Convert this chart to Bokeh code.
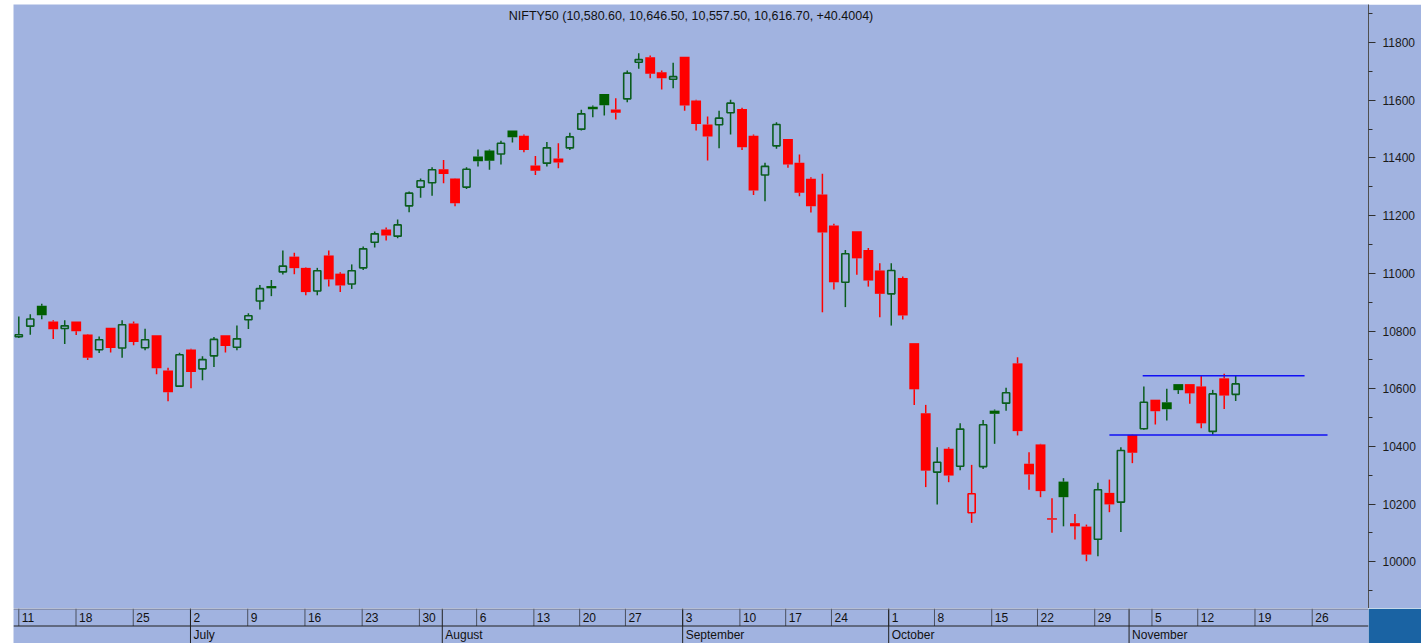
import datetime as dt
from bokeh.plotting import figure
from bokeh.models import ColumnDataSource, Range1d, FixedTicker, Label, Span, BasicTickFormatter
from bokeh.layouts import column
from bokeh.core.properties import value
from bokeh.embed import file_html
from bokeh.resources import INLINE

# ---------------- data (NIFTY50 daily, 2018) ----------------
symbol = "NIFTY50"
year = 2018
june_days = [11, 12, 13, 14, 15, 18, 19, 20, 21, 22, 25, 26, 27, 28, 29]
july_days = [2, 3, 4, 5, 6, 9, 10, 11, 12, 13, 16, 17, 18, 19, 20, 23, 24, 25, 26, 27, 30, 31]
aug_days = [1, 2, 3, 6, 7, 8, 9, 10, 13, 14, 16, 17, 20, 21, 23, 24, 27, 28, 29, 30, 31]
sep_days = [3, 4, 5, 6, 7, 10, 11, 12, 14, 17, 18, 19, 21, 24, 25, 26, 27, 28]
oct_days = [1, 3, 4, 5, 8, 9, 10, 11, 12, 15, 16, 17, 19, 22, 23, 24, 25, 26, 29, 30, 31]
nov_days = [1, 2, 5, 6, 7, 9, 12, 13, 14, 15]
nov_future_days = [16, 19, 20, 21, 22, 23, 26, 27, 28, 29, 30]

opens = [10780, 10817, 10888, 10833, 10809, 10833, 10788, 10735, 10811, 10741,
         10826, 10742, 10785, 10663, 10609, 10736, 10669, 10714, 10785, 10744,
         10839, 10904, 10956, 11005, 11058, 11019, 10939, 11062, 10999, 10963,
         11019, 11108, 11152, 11129, 11234, 11299, 11314, 11361, 11329, 11299,
         11405, 11426, 11414, 11495, 11477, 11374, 11382, 11398, 11435, 11500,
         11578, 11622, 11568, 11605, 11732, 11749, 11697, 11673, 11751, 11599,
         11516, 11515, 11557, 11570, 11477, 11341, 11442, 11466, 11383, 11328,
         11273, 11166, 10969, 11146, 11081, 11010, 10929, 10984, 10758, 10515,
         10311, 10392, 10331, 10170, 10330, 10524, 10550, 10688, 10340, 10407,
         10151, 10278, 10134, 10122, 10078, 10239, 10207, 10440, 10461, 10562,
         10553, 10616, 10616, 10608, 10452, 10636, 10580.6]
highs = [10850, 10858, 10895, 10837, 10837, 10833, 10790, 10781, 10811, 10837,
         10833, 10808, 10785, 10673, 10725, 10739, 10713, 10779, 10785, 10819,
         10862, 10960, 10977, 11079, 11071, 11021, 11019, 11079, 11004, 11031,
         11093, 11145, 11159, 11187, 11284, 11329, 11368, 11393, 11330, 11368,
         11429, 11429, 11460, 11495, 11481, 11407, 11455, 11451, 11487, 11567,
         11582, 11622, 11607, 11703, 11763, 11755, 11703, 11730, 11751, 11602,
         11544, 11564, 11602, 11574, 11481, 11383, 11524, 11466, 11412, 11333,
         11345, 11172, 11081, 11146, 11088, 11035, 11035, 10989, 10758, 10544,
         10397, 10397, 10480, 10336, 10492, 10528, 10603, 10709, 10380, 10409,
         10220, 10290, 10166, 10129, 10274, 10285, 10397, 10441, 10608, 10562,
         10600, 10616, 10616, 10646, 10596, 10652, 10646.5]
lows = [10776, 10787, 10841, 10772, 10755, 10786, 10700, 10724, 10726, 10707,
        10751, 10733, 10650, 10557, 10606, 10602, 10629, 10675, 10726, 10733,
        10807, 10875, 10921, 10996, 10997, 10924, 10924, 10954, 10935, 10946,
        11012, 11090, 11114, 11122, 11212, 11262, 11269, 11312, 11233, 11292,
        11370, 11359, 11377, 11454, 11420, 11341, 11370, 11364, 11428, 11495,
        11541, 11547, 11533, 11593, 11709, 11676, 11637, 11642, 11564, 11495,
        11391, 11434, 11481, 11428, 11272, 11250, 11432, 11366, 11267, 11211,
        10865, 10944, 10883, 10995, 10954, 10848, 10819, 10840, 10544, 10259,
        10199, 10276, 10317, 10135, 10322, 10409, 10524, 10438, 10250, 10224,
        10101, 10123, 10077, 10002, 10019, 10172, 10103, 10342, 10458, 10476,
        10490, 10582, 10548, 10463, 10441, 10530, 10557.5]
closes = [10787, 10842, 10855, 10806, 10818, 10799, 10707, 10770, 10741, 10822,
          10762, 10770, 10671, 10588, 10718, 10658, 10701, 10771, 10748, 10773,
          10853, 10947, 10948, 11025, 11018, 10935, 11009, 10979, 10958, 11009,
          11085, 11137, 11131, 11168, 11278, 11321, 11359, 11344, 11243, 11361,
          11389, 11390, 11451, 11472, 11428, 11356, 11435, 11384, 11473, 11553,
          11569, 11583, 11557, 11694, 11741, 11692, 11676, 11682, 11582, 11518,
          11474, 11538, 11590, 11437, 11287, 11371, 11516, 11377, 11279, 11233,
          11142, 10969, 11068, 11052, 10975, 10929, 11010, 10854, 10598, 10316,
          10345, 10299, 10460, 10236, 10475, 10513, 10586, 10453, 10303, 10245,
          10146, 10224, 10123, 10025, 10250, 10199, 10386, 10378, 10553, 10522,
          10529, 10595, 10584, 10480, 10582, 10576.3, 10616.7]
prev_close_before_first = 10768
last_change = 40.4004

# horizontal range lines (trading-day index, price)
level_prices = [10645, 10440]
level_start = [97.9, 95.0]
level_end = [112.0, 114.0]

y_ticks = [10000, 10200, 10400, 10600, 10800, 11000, 11200, 11400, 11600, 11800]
y_minor_ticks = [9900, 10100, 10300, 10500, 10700, 10900, 11100, 11300, 11500, 11700, 11900]

# ---------------- derived ----------------
def mk(month, days):
    return [dt.date(year, month, d) for d in days]

trading_dates = (mk(6, june_days) + mk(7, july_days) + mk(8, aug_days) +
                 mk(9, sep_days) + mk(10, oct_days) + mk(11, nov_days))
axis_dates = trading_dates + mk(11, nov_future_days)

week_idx, week_lbl, month_idx, month_lbl = [], [], [], []
seen_weeks, seen_months = set(), set()
for i, d in enumerate(axis_dates):
    wk = d.isocalendar()[:2]
    if wk not in seen_weeks:
        seen_weeks.add(wk)
        week_idx.append(i)
        week_lbl.append(str(d.day))
    if d.month not in seen_months:
        seen_months.add(d.month)
        if i > 0:
            month_idx.append(i)
            month_lbl.append(d.strftime("%B"))

n = len(closes)
xs = list(range(n))
prevs = [prev_close_before_first] + closes[:-1]
tops = [max(o, c) for o, c in zip(opens, closes)]
bots = [min(o, c) for o, c in zip(opens, closes)]
hollow = [c > o for o, c in zip(opens, closes)]
up = [c >= pc for c, pc in zip(closes, prevs)]

BG = "#A1B3E0"
UP_LINE = "#0B5D1E"
UP_FILL = "#005E00"
DOWN = "#FF0000"
FONT = "Liberation Sans"

edge = [UP_LINE if u else DOWN for u in up]
fillc = [UP_FILL if u else DOWN for u in up]

all_src = ColumnDataSource(dict(x=xs, high=highs, low=lows, top=tops, bot=bots, color=edge))
fsel = [i for i in xs if not hollow[i]]
hsel = [i for i in xs if hollow[i]]
filled_src = ColumnDataSource(dict(x=[xs[i] for i in fsel], top=[tops[i] for i in fsel],
                                   bot=[bots[i] for i in fsel], fill=[fillc[i] for i in fsel]))
hollow_src = ColumnDataSource(dict(x=[xs[i] for i in hsel], top=[tops[i] for i in hsel],
                                   bot=[bots[i] for i in hsel], color=[edge[i] for i in hsel]))

# ---------------- geometry ----------------
W = 1408
FRAME_W = 1355
SLOT = 11.48
TOP = 4
x_lo = -5.3 / SLOT
x_hi = x_lo + FRAME_W / SLOT
px_per_unit = 57.69 / 200.0
y_lo = 10000 - (608 - 561.3) / px_per_unit
y_hi = 10000 + (561.3 - TOP) / px_per_unit

p = figure(width=W, height=608 - TOP, x_range=Range1d(x_lo, x_hi), y_range=Range1d(y_lo, y_hi),
           output_backend="svg", toolbar_location=None, x_axis_location=None,
           y_axis_location="right", min_border_left=0, min_border_top=0,
           min_border_bottom=0, min_border_right=W - FRAME_W,
           background_fill_color=BG, border_fill_color=BG, outline_line_color=None)
p.xgrid.visible = False
p.ygrid.visible = False

yax = p.yaxis[0]
yax.ticker = FixedTicker(ticks=y_ticks, minor_ticks=y_minor_ticks)
yax.formatter = BasicTickFormatter(use_scientific=False)
yax.major_tick_out = 7
yax.major_tick_in = 0
yax.minor_tick_out = 4
yax.minor_tick_in = 0
yax.major_label_standoff = 7
yax.major_label_text_font = FONT
yax.major_label_text_font_size = "12px"
yax.major_label_text_color = "#1a1a1a"
yax.axis_line_color = "#505050"
yax.major_tick_line_color = "#303030"
yax.minor_tick_line_color = "#303030"

p.segment(x0="x", y0="high", x1="x", y1="top", source=all_src, line_color="color", line_width=1.5)
p.segment(x0="x", y0="bot", x1="x", y1="low", source=all_src, line_color="color", line_width=1.5)
p.vbar(x="x", top="top", bottom="bot", width=0.86, source=filled_src,
       fill_color="fill", line_color=None)
p.vbar(x="x", top="top", bottom="bot", width=0.62, source=hollow_src,
       fill_color=None, line_color="color", line_width=1.6)

p.segment(x0=level_start, y0=level_prices, x1=level_end, y1=level_prices,
          line_color="#1010F5", line_width=1.5)

title_text = "%s (%s, %s, %s, %s, %+.4f)" % (
    symbol, f"{opens[-1]:,.2f}", f"{highs[-1]:,.2f}", f"{lows[-1]:,.2f}", f"{closes[-1]:,.2f}", last_change)
p.add_layout(Label(x=(x_lo + x_hi) / 2, y=y_hi - 11 / px_per_unit, text=title_text,
                   text_align="center", text_baseline="middle", text_font=FONT,
                   text_font_size="12.5px", text_color="#111111"))

# ---------------- date strip ----------------
STRIP_FRAME_W = 1359
s = figure(width=W, height=35, x_range=Range1d(x_lo, x_lo + STRIP_FRAME_W / SLOT),
           y_range=Range1d(0, 35), output_backend="svg", toolbar_location=None,
           x_axis_location=None, y_axis_location=None, min_border_left=0,
           min_border_top=0, min_border_bottom=0, min_border_right=W - STRIP_FRAME_W,
           background_fill_color=BG, border_fill_color="#1A63A3", outline_line_color=None)
s.xgrid.visible = False
s.ygrid.visible = False
s.add_layout(Span(location=34.5, dimension="width", line_color="#6a6f80", line_width=1))
s.add_layout(Span(location=17.5, dimension="width", line_color="#202020", line_width=1))
s.segment(x0=week_idx, y0=[17.5] * len(week_idx), x1=week_idx, y1=[35] * len(week_idx),
          line_color="#4a5060", line_width=1)
s.segment(x0=month_idx, y0=[0] * len(month_idx), x1=month_idx, y1=[35] * len(month_idx),
          line_color="#202020", line_width=1)
s.text(x=week_idx, y=[26.5] * len(week_idx), text=week_lbl, x_offset=3,
       text_align="left", text_baseline="middle", text_font=value(FONT),
       text_font_size="12px", text_color="#111111")
s.text(x=month_idx, y=[8.5] * len(month_idx), text=month_lbl, x_offset=3,
       text_align="left", text_baseline="middle", text_font=value(FONT),
       text_font_size="12px", text_color="#111111")

layout = column(p, s, spacing=0)
layout.margin = (TOP, 0, 0, 13)

open("out.html", "w").write(file_html(layout, INLINE))
